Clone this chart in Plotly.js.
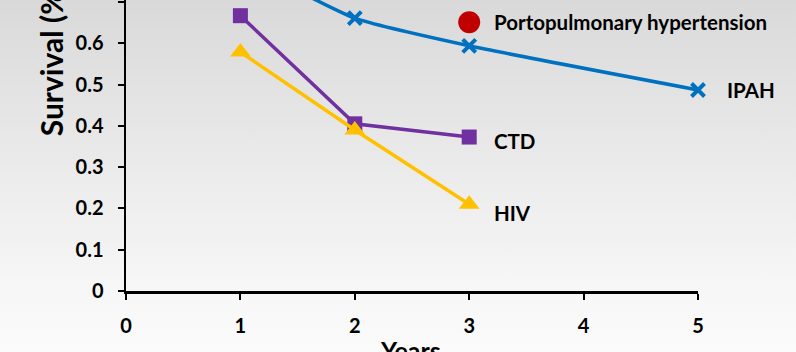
<!DOCTYPE html>
<html>
<head>
<meta charset="utf-8">
<script src="https://cdn.plot.ly/plotly-3.0.1.min.js"></script>
<style>
  html, body { margin: 0; padding: 0; width: 796px; height: 352px; overflow: hidden;
    background: linear-gradient(to bottom, #d9d9d9 0%, #e8e8e8 40%, #f6f6f6 80%, #fbfbfb 100%); }
  #chart { width: 796px; height: 352px; }
</style>
</head>
<body>
<div id="chart"></div>
<script>
// Data
const ipahYears = [1, 2, 3, 5];
const ipahSurvival = [0.8, 0.661, 0.594, 0.487];
const ctdYears = [1, 2, 3];
const ctdSurvival = [0.667, 0.405, 0.373];
const hivYears = [1, 2, 3];
const hivSurvival = [0.579, 0.39, 0.21];
const pophYears = [3];
const pophSurvival = [0.651];
const xTicks = [0, 1, 2, 3, 4, 5];
const yTicks = [0, 0.1, 0.2, 0.3, 0.4, 0.5, 0.6, 0.7];
const yTickLabels = ['0', '0.1', '0.2', '0.3', '0.4', '0.5', '0.6', '0.7'];
const seriesLabels = ['IPAH', 'CTD', 'HIV', 'Portopulmonary hypertension'];

const FONT = 'Lato, "Open Sans", sans-serif';

const traces = [
  { x: ipahYears, y: ipahSurvival, mode: 'lines+markers', name: seriesLabels[0],
    line: { color: '#0070C0', width: 3.5, shape: 'spline', smoothing: 0.5 },
    marker: { symbol: 'x-thin', size: 13, line: { color: '#0070C0', width: 4 } }, cliponaxis: false },
  { x: ctdYears, y: ctdSurvival, mode: 'lines+markers', name: seriesLabels[1],
    line: { color: '#7030A0', width: 3.5 },
    marker: { symbol: 'square', size: 15, color: '#7030A0' }, cliponaxis: false },
  { x: hivYears, y: hivSurvival, mode: 'lines+markers', name: seriesLabels[2],
    line: { color: '#FFC000', width: 3.5 },
    marker: { symbol: 'triangle-up', size: 18, color: '#FFC000' }, cliponaxis: false },
  { x: pophYears, y: pophSurvival, mode: 'markers', name: seriesLabels[3],
    marker: { symbol: 'circle', size: 22, color: '#C00000' }, cliponaxis: false }
];

const labelFont = { family: FONT, size: 20.5, color: '#000000', weight: 'bold' };

const layout = {
  width: 796, height: 352,
  margin: { l: 126, r: 98, t: 0, b: 61 },
  paper_bgcolor: 'rgba(0,0,0,0)',
  plot_bgcolor: 'rgba(0,0,0,0)',
  showlegend: false,
  xaxis: {
    range: [0, 5], tickvals: xTicks, ticktext: xTicks.map(String),
    showgrid: false, zeroline: false, showline: true, linecolor: '#000', linewidth: 2.5,
    ticks: 'outside', ticklen: 6, tickwidth: 2, tickcolor: '#000', ticklabelstandoff: 9,
    tickfont: { family: FONT, size: 20, color: '#000', weight: 'bold' }
  },
  yaxis: {
    range: [0, 0.705], tickvals: yTicks, ticktext: yTickLabels,
    showgrid: false, zeroline: false, showline: true, linecolor: '#000', linewidth: 2.5,
    ticks: 'outside', ticklen: 6, tickwidth: 2, tickcolor: '#000', ticklabelstandoff: 10,
    tickfont: { family: FONT, size: 20, color: '#000', weight: 'bold' }
  },
  annotations: [
    { x: 3.2, y: pophSurvival[0], xref: 'x', yref: 'y', text: seriesLabels[3], showarrow: false,
      xanchor: 'left', yanchor: 'middle', font: labelFont },
    { x: 1.047, y: ipahSurvival[3], xref: 'paper', yref: 'y', text: seriesLabels[0], showarrow: false,
      xanchor: 'left', yanchor: 'middle', font: labelFont },
    { x: 3.2, y: 0.363, xref: 'x', yref: 'y', text: seriesLabels[1], showarrow: false,
      xanchor: 'left', yanchor: 'middle', font: labelFont },
    { x: 3.2, y: 0.189, xref: 'x', yref: 'y', text: seriesLabels[2], showarrow: false,
      xanchor: 'left', yanchor: 'middle', font: labelFont },
    { x: -0.131, y: 0.525, xref: 'paper', yref: 'paper', text: 'Survival (%)', showarrow: false,
      textangle: -90, xanchor: 'center', yanchor: 'bottom',
      font: { family: FONT, size: 30, color: '#000', weight: 'bold' } },
    { x: 0.498, y: -0.144, xref: 'paper', yref: 'paper', text: 'Years', showarrow: false,
      xanchor: 'center', yanchor: 'top',
      font: { family: FONT, size: 25, color: '#000', weight: 'bold' } }
  ]
};

Plotly.newPlot('chart', traces, layout, { displayModeBar: false, staticPlot: true });
</script>
</body>
</html>
